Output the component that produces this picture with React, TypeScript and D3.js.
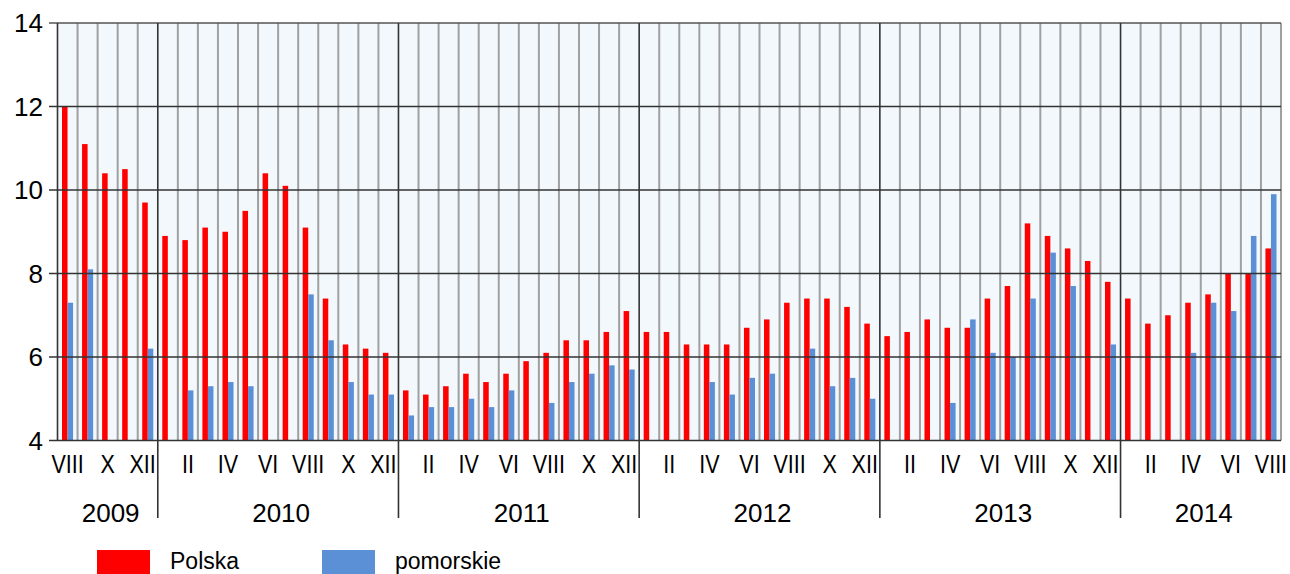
import React from 'react';
import * as d3 from 'd3';

// unemployment-like series, VIII 2009 .. VIII 2014 (monthly)
const years = ['2009', '2010', '2011', '2012', '2013', '2014'];
const monthsPerYear = [5, 12, 12, 12, 12, 8];
const firstMonth = 8; // VIII 2009
const roman = ['I', 'II', 'III', 'IV', 'V', 'VI', 'VII', 'VIII', 'IX', 'X', 'XI', 'XII'];

const polska = [
  12.0, 11.1, 10.4, 10.5, 9.7,
  8.9, 8.8, 9.1, 9.0, 9.5, 10.4, 10.1, 9.1, 7.4, 6.3, 6.2, 6.1,
  5.2, 5.1, 5.3, 5.6, 5.4, 5.6, 5.9, 6.1, 6.4, 6.4, 6.6, 7.1,
  6.6, 6.6, 6.3, 6.3, 6.3, 6.7, 6.9, 7.3, 7.4, 7.4, 7.2, 6.8,
  6.5, 6.6, 6.9, 6.7, 6.7, 7.4, 7.7, 9.2, 8.9, 8.6, 8.3, 7.8,
  7.4, 6.8, 7.0, 7.3, 7.5, 8.0, 8.0, 8.6,
];

const pomorskie: (number | null)[] = [
  7.3, 8.1, null, null, 6.2,
  null, 5.2, 5.3, 5.4, 5.3, null, null, 7.5, 6.4, 5.4, 5.1, 5.1,
  4.6, 4.8, 4.8, 5.0, 4.8, 5.2, null, 4.9, 5.4, 5.6, 5.8, 5.7,
  null, null, null, 5.4, 5.1, 5.5, 5.6, null, 6.2, 5.3, 5.5, 5.0,
  null, null, null, 4.9, 6.9, 6.1, 6.0, 7.4, 8.5, 7.7, null, 6.3,
  null, null, null, 6.1, 7.3, 7.1, 8.9, 9.9,
];

const yTicks = [4, 6, 8, 10, 12, 14];
const seriesNames = ['Polska', 'pomorskie'];
const colors = ['#ff0000', '#5b8fd6'];

const W = 1290;
const H = 574;
const left = 57.5;
const right = 1281;
const top = 23;
const bottom = 440.5;
const font = '"Liberation Sans", Arial, sans-serif';

export default function App() {
  const n = polska.length;
  const idx = d3.range(n);
  const x = d3.scaleBand<number>().domain(idx).range([left, right]).padding(0);
  const bw = x.bandwidth();
  const inner = d3.scaleBand<string>().domain(seriesNames).range([4.5, bw - 4.5]).padding(0);
  const y = d3.scaleLinear().domain([4, 14]).range([bottom, top]);

  const monthOf = (i: number) => ((firstMonth - 1 + i) % 12) + 1;

  // year boundaries (index where each year starts)
  const yearStarts = monthsPerYear.map((_, k) => d3.sum(monthsPerYear.slice(0, k)));

  return (
    <svg width={W} height={H} style={{ position: 'absolute', left: 0, top: 0 }} fontFamily={font}>
      <rect x={left} y={top} width={right - left} height={bottom - top} fill="#f2f8fc" />

      {/* month lines */}
      {idx.slice(1).filter(i => monthOf(i) !== 1).map(i => (
        <line key={'m' + i} x1={x(i)} x2={x(i)} y1={top} y2={bottom} stroke="#a0a0a0" strokeWidth={2} />
      ))}
      <line x1={right} x2={right} y1={top} y2={bottom} stroke="#a0a0a0" strokeWidth={2} />

      {/* bars */}
      {idx.map(i => (
        <g key={'b' + i}>
          <rect x={(x(i) as number) + (inner('Polska') as number)} y={y(polska[i])}
            width={inner.bandwidth()} height={bottom - y(polska[i])} fill={colors[0]} />
          {pomorskie[i] != null && (
            <rect x={(x(i) as number) + (inner('pomorskie') as number)} y={y(pomorskie[i] as number)}
              width={inner.bandwidth()} height={bottom - y(pomorskie[i] as number)} fill={colors[1]} />
          )}
        </g>
      ))}

      {/* horizontal grid */}
      {yTicks.map(t => (
        <line key={'h' + t} x1={49} x2={right} y1={y(t)} y2={y(t)}
          stroke={t === 14 ? '#555' : '#333'} strokeWidth={1.6} />
      ))}
      {yTicks.map(t => (
        <text key={'yt' + t} x={43} y={y(t)} dy="0.36em" textAnchor="end" fontSize={26} fill="#000">{t}</text>
      ))}

      {/* left axis + year separators */}
      <line x1={left} x2={left} y1={top} y2={bottom} stroke="#333" strokeWidth={1.6} />
      {yearStarts.slice(1).map(s => (
        <line key={'y' + s} x1={x(s)} x2={x(s)} y1={top} y2={518} stroke="#333" strokeWidth={1.6} />
      ))}

      {/* month labels */}
      {idx.filter(i => monthOf(i) % 2 === 0).map(i => {
        const m = monthOf(i);
        const last = m === 12;
        const tx = last ? (x(i) as number) + bw - 2 : (x(i) as number) + bw / 2;
        return (
          <text key={'ml' + i} transform={`translate(${tx},473) scale(0.86,1)`}
            textAnchor={last ? 'end' : 'middle'} fontSize={25} fill="#000">{roman[m - 1]}</text>
        );
      })}

      {/* year labels */}
      {years.map((yr, k) => {
        const s = yearStarts[k];
        const e = s + monthsPerYear[k];
        const x0 = x(s) as number;
        const x1 = e >= n ? right : (x(e) as number);
        return (
          <text key={yr} x={(x0 + x1) / 2 + 3} y={522} textAnchor="middle" fontSize={26} fill="#000">{yr}</text>
        );
      })}

      {/* legend */}
      {seriesNames.map((s, k) => (
        <g key={s} transform={`translate(${97 + k * 225},550)`}>
          <rect x={0} y={0} width={53} height={30} fill={colors[k]} />
          <text x={73} y={19} fontSize={23} fill="#000">{s}</text>
        </g>
      ))}
    </svg>
  );
}
